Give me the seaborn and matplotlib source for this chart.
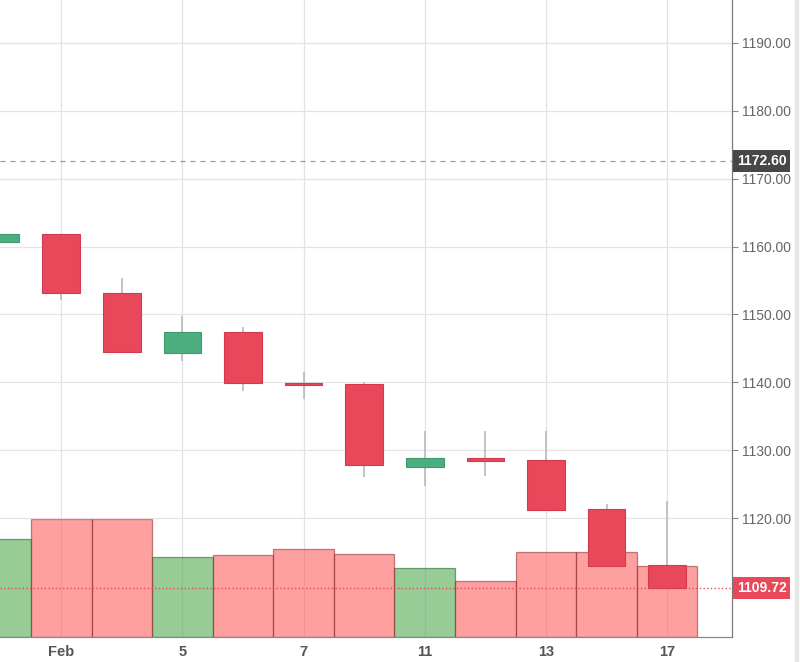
import numpy as np
import pandas as pd
import seaborn as sns
import matplotlib.pyplot as plt
import matplotlib.transforms as mtransforms
from matplotlib.lines import Line2D

# datos de velas (indice de sesion) y volumen
pos = np.arange(12)
opens = [1160.7, 1161.9, 1153.1, 1144.3, 1147.4, 1139.9, 1139.7, 1127.6, 1128.9, 1128.5, 1121.3, 1113.1]
highs = [1161.9, 1161.9, 1155.4, 1149.7, 1148.2, 1141.5, 1140.0, 1132.8, 1132.8, 1132.8, 1122.1, 1122.5]
lows = [1160.7, 1152.1, 1144.4, 1143.1, 1138.7, 1137.5, 1126.0, 1124.7, 1126.2, 1121.2, 1112.9, 1109.72]
closes = [1161.9, 1153.1, 1144.4, 1147.4, 1139.9, 1139.6, 1127.8, 1128.8, 1128.4, 1121.2, 1112.9, 1109.72]
volumes = [1960, 2360, 2360, 1600, 1640, 1760, 1660, 1380, 1120, 1700, 1700, 1420]
tick_pos = [1, 3, 5, 7, 9, 11]
tick_labels = ['Feb', '5', '7', '11', '13', '17']
price_ticks = [1120, 1130, 1140, 1150, 1160, 1170, 1180, 1190]
ref_price = 1172.60
last_price = 1109.72

sns.set_style('white')
plt.rcParams['font.family'] = ['Liberation Sans', 'DejaVu Sans']

up_c = '#4cae7e'
down_c = '#e8485a'

df = pd.DataFrame({'pos': pos, 'vol': volumes,
                   'dir': ['up' if c >= o else 'down' for o, c in zip(opens, closes)]})

fig = plt.figure(figsize=(8, 6.62), dpi=100)
ax_v = fig.add_axes([0, 0.0378, 0.915, 0.9622])
ax = ax_v.twinx()
ax.set_zorder(ax_v.get_zorder() + 1)
ax.patch.set_visible(False)

# volumen (barras semitransparentes)
sns.barplot(data=df, x='pos', y='vol', hue='dir', dodge=False, width=1,
            palette={'up': '#3ca03c', 'down': '#ff4d4d'}, saturation=1,
            legend=False, ax=ax_v, zorder=2)
for p in ax_v.patches:
    fc = p.get_facecolor()
    p.set_facecolor((fc[0], fc[1], fc[2], 0.53))
    p.set_edgecolor((fc[0] * 0.55, fc[1] * 0.55, fc[2] * 0.55, 0.55))
    p.set_linewidth(0.9)
ax_v.set_ylim(0, 12740)
ax_v.set_yticks([])
ax_v.set_ylabel('')
ax_v.set_xlabel('')
ax_v.xaxis.grid(True, color='#e2e2e2', lw=0.9)
ax_v.set_axisbelow(True)

# velas
colors = [up_c if c >= o else down_c for o, c in zip(opens, closes)]
edges = ['#3f9a6c' if c >= o else '#d23a4d' for o, c in zip(opens, closes)]
ax.vlines(pos, lows, highs, color='#b9b9c2', lw=1.2, zorder=2)
bottoms = np.minimum(opens, closes)
heights = np.maximum(np.abs(np.array(closes) - np.array(opens)), 0.35)
ax.bar(pos, heights, bottom=bottoms, width=0.62, color=colors,
       edgecolor=edges, lw=0.8, zorder=3)

ax.set_ylim(1102.5, 1196.3)
ax.set_xlim(-0.01, 12.07)
ax.set_yticks(price_ticks)
ax.set_yticklabels([f'{v:.2f}' for v in price_ticks])
ax.yaxis.grid(True, color='#e4e4e4', lw=0.9, zorder=0)
ax.set_xticks(tick_pos)
ax.set_xticklabels(tick_labels)
ax_v.set_xticks(tick_pos)
ax_v.set_xticklabels(tick_labels, fontsize=10.5, color='#555555', fontweight='bold')
ax_v.tick_params(axis='x', length=4, color='#888888', direction='out', pad=2)
ax.tick_params(axis='y', right=True, length=4, color='#888888', labelsize=10,
               labelcolor='#666666', direction='out', pad=3)
ax.tick_params(axis='x', length=0)

for a in (ax, ax_v):
    for s in ['top', 'left']:
        a.spines[s].set_visible(False)
    a.spines['right'].set_color('#777777')
    a.spines['bottom'].set_color('#888888')

# lineas de referencia
ax.axhline(ref_price, color='#9a9a9a', lw=0.9, dashes=(4, 4), zorder=1)
ax.axhline(last_price, color=down_c, lw=1.0, ls=':', zorder=4)
trans = mtransforms.blended_transform_factory(ax.transAxes, ax.transData)
ax.text(1.0065, ref_price, f'{ref_price:.2f}', transform=trans, ha='left', va='center',
        fontsize=10, fontweight='bold', color='white', clip_on=False, zorder=10,
        bbox=dict(boxstyle='square,pad=0.28', fc='#474747', ec='none'))
ax.text(1.0065, last_price, f'{last_price:.2f}', transform=trans, ha='left', va='center',
        fontsize=10, fontweight='bold', color='white', clip_on=False, zorder=10,
        bbox=dict(boxstyle='square,pad=0.28', fc=down_c, ec='none'))

# borde claro a la derecha
fig.add_artist(Line2D([0.996, 0.996], [0, 1], transform=fig.transFigure,
                      color='#e6e6e6', lw=3))

fig.savefig('out.png', dpi=100)
